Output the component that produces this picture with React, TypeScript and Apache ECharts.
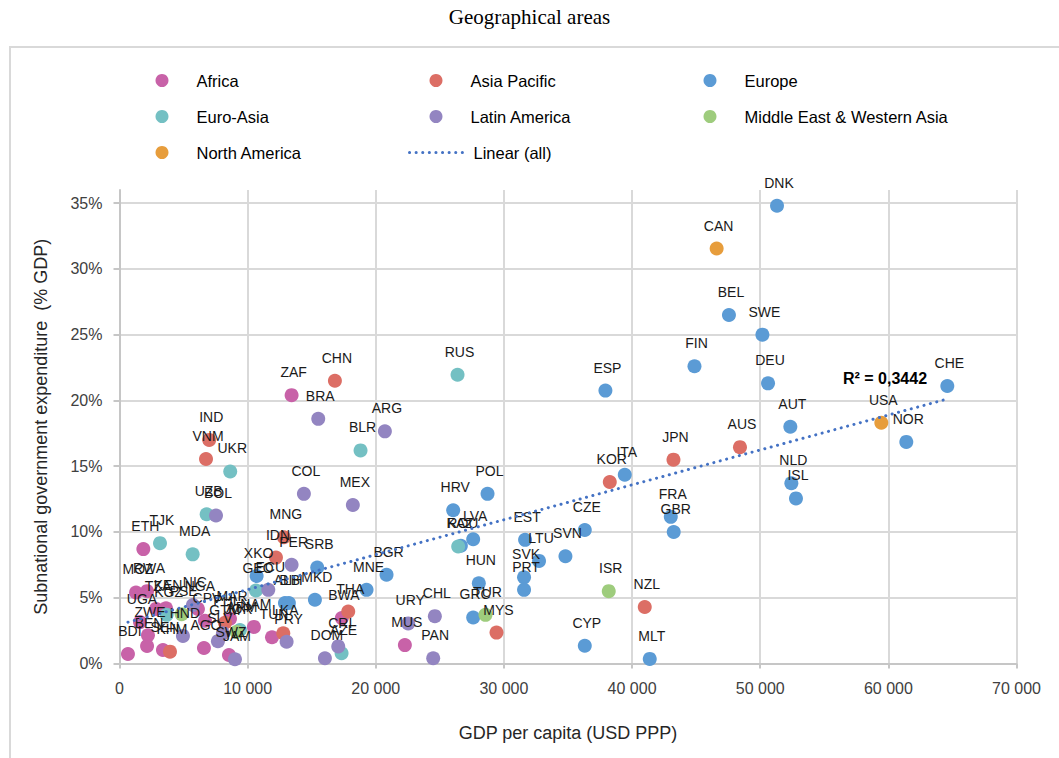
import React, { useEffect, useRef } from "react";
import * as echarts from "echarts";

type Pt = [string, number, number];

const africa: Pt[] = [
  ["ZAF", 13430, 20.4], ["ETH", 1860, 8.7], ["MOZ", 1290, 5.4], ["RWA", 2150, 5.5],
  ["TZA", 2850, 4.15], ["KEN", 3630, 4.2], ["NGA", 6120, 4.15], ["UGA", 1600, 3.15],
  ["ZWE", 2220, 2.15], ["BDI", 660, 0.72], ["BEN", 2150, 1.33], ["SEN", 3390, 1.03],
  ["CPV", 6670, 3.25], ["MAR", 8620, 3.4], ["AGO", 6590, 1.18], ["NAM", 10490, 2.78],
  ["SWZ", 8540, 0.65], ["TUN", 11900, 2.0], ["BWA", 17350, 3.45], ["MUS", 22270, 1.4],
];

const asiaPacific: Pt[] = [
  ["CHN", 16810, 21.5], ["IND", 7000, 17.0], ["VNM", 6750, 15.55], ["MNG", 12830, 9.6],
  ["IDN", 12210, 8.05], ["THA", 17850, 3.95], ["LKA", 12780, 2.3], ["PHL", 8230, 3.1],
  ["KHM", 3940, 0.9], ["MYS", 29420, 2.35], ["KOR", 38260, 13.8], ["JPN", 43230, 15.5],
  ["AUS", 48420, 16.45], ["NZL", 40990, 4.3],
];

const europe: Pt[] = [
  ["DNK", 51310, 34.8], ["BEL", 47560, 26.5], ["SWE", 50170, 25.0], ["FIN", 44870, 22.6],
  ["ESP", 37920, 20.75], ["DEU", 50610, 21.3], ["CHE", 64600, 21.1], ["AUT", 52350, 18.0],
  ["NOR", 61400, 16.85], ["ITA", 39430, 14.35], ["NLD", 52430, 13.7], ["ISL", 52790, 12.55],
  ["FRA", 43020, 11.15], ["GBR", 43250, 10.0], ["POL", 28720, 12.9], ["HRV", 26040, 11.65],
  ["LVA", 27600, 9.45], ["ROU", 26640, 8.95], ["EST", 31650, 9.4], ["CZE", 36310, 10.15],
  ["LTU", 32740, 7.8], ["SVN", 34800, 8.15], ["SVK", 31570, 6.55], ["PRT", 31570, 5.6],
  ["HUN", 28040, 6.1], ["GRC", 27600, 3.5], ["CYP", 36310, 1.35], ["MLT", 41380, 0.35],
  ["BGR", 20840, 6.75], ["MNE", 19280, 5.6], ["SRB", 15430, 7.3], ["MKD", 15250, 4.85],
  ["XKO", 10700, 6.65], ["ALB", 12910, 4.6], ["BIH", 13220, 4.6],
];

const euroAsia: Pt[] = [
  ["RUS", 26380, 21.95], ["BLR", 18810, 16.2], ["UKR", 8640, 14.6], ["UZB", 6800, 11.35],
  ["TJK", 3160, 9.15], ["MDA", 5710, 8.3], ["KAZ", 26430, 8.9], ["GEO", 10650, 5.55],
  ["KGZ", 3680, 3.7], ["ARM", 9400, 2.55], ["AZE", 17330, 0.78],
];

const latinAmerica: Pt[] = [
  ["BRA", 15510, 18.6], ["ARG", 20710, 17.65], ["COL", 14390, 12.9], ["MEX", 18210, 12.05],
  ["BOL", 7530, 11.25], ["PER", 13430, 7.5], ["ECU", 11610, 5.6], ["CHL", 24610, 3.6],
  ["URY", 22530, 3.05], ["PAN", 24480, 0.4], ["CRI", 17070, 1.3], ["DOM", 16030, 0.4],
  ["PRY", 13040, 1.65], ["HND", 4950, 2.1], ["NIC", 5730, 4.45], ["GTM", 8070, 2.3],
  ["SLV", 7680, 1.7], ["JAM", 9010, 0.32],
];

const middleEast: Pt[] = [
  ["ISR", 38180, 5.5], ["TUR", 28560, 3.7], ["JOR", 9140, 2.4], ["PSE", 4850, 3.75],
];

const northAmerica: Pt[] = [
  ["CAN", 46600, 31.55], ["USA", 59450, 18.3],
];

// Linear trend (all), endpoints
const trendline: [number, number][] = [[660, 3.14], [64600, 20.11]];

const groups: { name: string; data: Pt[]; color: string }[] = [
  { name: "Africa", data: africa, color: "#C862A8" },
  { name: "Asia Pacific", data: asiaPacific, color: "#DC6E65" },
  { name: "Europe", data: europe, color: "#5B9BD5" },
  { name: "Euro-Asia", data: euroAsia, color: "#74C0C3" },
  { name: "Latin America", data: latinAmerica, color: "#9385C1" },
  { name: "Middle East & Western Asia", data: middleEast, color: "#9ECC7D" },
  { name: "North America", data: northAmerica, color: "#E79D3C" },
];

const legendPos: { name: string; left: number; top: number }[] = [
  { name: "Africa", left: 155.5, top: 72 },
  { name: "Asia Pacific", left: 429.5, top: 72 },
  { name: "Europe", left: 703.5, top: 72 },
  { name: "Euro-Asia", left: 155.5, top: 108 },
  { name: "Latin America", left: 429.5, top: 108 },
  { name: "Middle East & Western Asia", left: 703.5, top: 108 },
  { name: "North America", left: 155.5, top: 144 },
];

const SANS = "'Liberation Sans', Arial, sans-serif";
const NARROW = "'Liberation Sans Narrow', 'Arial Narrow', 'Liberation Sans', sans-serif";

export default function App() {
  const ref = useRef<HTMLDivElement>(null);
  useEffect(() => {
    if (!ref.current) return;
    const chart = echarts.init(ref.current, null, { renderer: "svg" });

    const scatterSeries = groups.map((g) => ({
      type: "scatter",
      name: g.name,
      symbol: "circle",
      symbolSize: 14,
      itemStyle: { color: g.color, opacity: 1 },
      data: g.data.map(([c, x, y]) => ({ name: c, value: [x, y] })),
      label: {
        show: true,
        formatter: "{b}",
        position: "top",
        distance: 9,
        offset: [2, 0],
        fontSize: 14,
        fontFamily: NARROW,
        color: "#1a1a1a",
      },
      emphasis: { disabled: true },
      silent: true,
    }));

    const legends: any[] = legendPos.map((l) => ({
      data: [{ name: l.name, icon: "circle" }],
      left: l.left,
      top: l.top,
      padding: 0,
      itemWidth: 13,
      itemHeight: 13,
      selectedMode: false,
      textStyle: { fontSize: 16.5, fontFamily: SANS, color: "#000", padding: [0, 0, 0, 23] },
    }));
    legends.push({
      data: ["Linear (all)"],
      left: 408,
      top: 144,
      padding: 0,
      itemWidth: 57,
      itemHeight: 13,
      selectedMode: false,
      itemStyle: { color: "rgba(0,0,0,0)", borderColor: "rgba(0,0,0,0)", borderWidth: 0 },
      lineStyle: { color: "#4472C4", width: 3, type: [0.1, 6.5], cap: "round" },
      textStyle: { fontSize: 16.5, fontFamily: SANS, color: "#000", padding: [0, 0, 0, 2] },
    });

    chart.setOption({
      animation: false,
      backgroundColor: "#fff",
      title: {
        text: "Geographical areas",
        left: "center",
        top: 6,
        padding: 0,
        textStyle: {
          fontFamily: "'Liberation Serif', 'Times New Roman', serif",
          fontSize: 21,
          fontWeight: "normal",
          color: "#000",
        },
      },
      legend: legends,
      grid: { left: 119.5, right: 42.5, top: 190, bottom: 94.5 },
      xAxis: {
        type: "value",
        min: 0,
        max: 70000,
        interval: 10000,
        name: "GDP per capita (USD PPP)",
        nameLocation: "middle",
        nameGap: 60,
        nameTextStyle: { fontSize: 18, fontFamily: SANS, color: "#262626" },
        axisLine: { show: true, lineStyle: { color: "#c6c6c6", width: 2 } },
        axisTick: { show: true, inside: false, length: 5, lineStyle: { color: "#c6c6c6", width: 2 } },
        axisLabel: {
          fontSize: 16,
          fontFamily: SANS,
          color: "#404040",
          margin: 17,
          formatter: (v: number) => String(v).replace(/\B(?=(\d{3})+(?!\d))/g, " "),
        },
        splitLine: { show: true, lineStyle: { color: "#d9d9d9", width: 2 } },
      },
      yAxis: {
        type: "value",
        min: 0,
        max: 36,
        interval: 5,
        name: "Subnational government expenditure  (% GDP)",
        nameLocation: "middle",
        nameGap: 70,
        nameTextStyle: { fontSize: 18, fontFamily: SANS, color: "#262626" },
        axisLine: { show: true, lineStyle: { color: "#c6c6c6", width: 2 } },
        axisTick: { show: true, inside: false, length: 6, lineStyle: { color: "#c6c6c6", width: 2 } },
        axisLabel: {
          fontSize: 16,
          fontFamily: SANS,
          color: "#404040",
          margin: 17,
          showMaxLabel: false,
          formatter: "{value}%",
        },
        splitLine: { show: true, showMaxLine: false, lineStyle: { color: "#d9d9d9", width: 2 } },
      },
      graphic: [
        {
          type: "rect",
          shape: { x: 10, y: 47, width: 1100, height: 800 },
          style: { fill: "none", stroke: "#d9d9d9", lineWidth: 2 },
          silent: true,
          z: -10,
        },
        {
          type: "text",
          x: 885,
          y: 378,
          style: {
            text: "R² = 0,3442",
            fontSize: 16,
            fontWeight: "bold",
            fontFamily: SANS,
            fill: "#000",
            align: "center",
            verticalAlign: "middle",
          },
          silent: true,
          z: 100,
        },
      ],
      series: [
        ...scatterSeries,
        {
          type: "line",
          name: "Linear (all)",
          data: trendline,
          symbol: "none",
          showSymbol: false,
          lineStyle: { color: "#4472C4", width: 3, type: [0.1, 6.5], cap: "round" },
          itemStyle: { color: "#4472C4" },
          emphasis: { disabled: true },
          silent: true,
          z: 3,
        },
      ],
    });
    return () => chart.dispose();
  }, []);
  return (
    <div
      ref={ref}
      style={{ position: "fixed", left: 0, top: 0, width: 1059, height: 758 }}
    />
  );
}
